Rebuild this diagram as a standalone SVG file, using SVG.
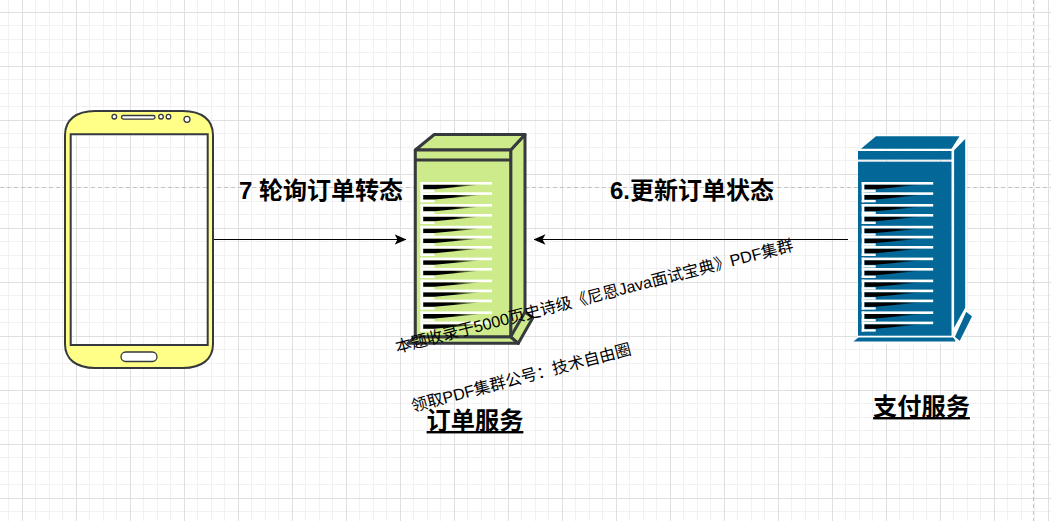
<svg xmlns="http://www.w3.org/2000/svg" xmlns:xlink="http://www.w3.org/1999/xlink" width="1051" height="521" viewBox="0 0 1051 521">
<style>
text{font-family:"Liberation Sans","Noto Sans CJK SC",sans-serif;fill:#000}
.lbl{font-size:24px;font-weight:700}
.ttl{font-size:24.2px;font-weight:700;text-decoration:underline}
.wm{font-size:16.2px}
.conn{stroke:#000;stroke-width:1;fill:none}
.ph{stroke:#36393d;stroke-width:2;fill:#ffff88}
.phw{stroke:#36393d;stroke-width:1.3;fill:#fff}
.g{fill:#cdeb8b;stroke:#36393d;stroke-width:3;stroke-linejoin:round}
.b{fill:#036897;stroke:#fff;stroke-width:1.6}
.w{fill:#fff}
.dash{stroke:#c4c4c4;fill:none;stroke-dasharray:4 3}
</style>
<defs>
<pattern id="grid" patternUnits="userSpaceOnUse" x="22" y="12" width="54" height="54">
<rect x="13" width="1" height="54" fill="#f1f1f1"/><rect x="27" width="1" height="54" fill="#f1f1f1"/><rect x="40" width="1" height="54" fill="#f1f1f1"/>
<rect y="13" width="54" height="1" fill="#f1f1f1"/><rect y="27" width="54" height="1" fill="#f1f1f1"/><rect y="40" width="54" height="1" fill="#f1f1f1"/>
<rect width="1" height="54" fill="#dfdfdf"/><rect width="54" height="1" fill="#dfdfdf"/>
</pattern>
<linearGradient id="fade" gradientUnits="userSpaceOnUse" x1="14" y1="0" x2="62" y2="0"><stop offset="0" stop-color="#000"/><stop offset="0.4" stop-color="#000"/><stop offset="1" stop-color="#000" stop-opacity="0"/></linearGradient>
<g id="row">
<path d="M2.6 2.6H62L14 7.2H2.6Z" fill="url(#fade)"/>
<rect class="w" width="71.5" height="2.6"/>
<rect class="w" width="2.6" height="10"/>
<rect class="w" y="7.6" width="14" height="2.4"/>
</g>
<g id="rows">
<use xlink:href="#row" y="0"/><use xlink:href="#row" y="10.3"/><use xlink:href="#row" y="22"/><use xlink:href="#row" y="32"/><use xlink:href="#row" y="43.8"/><use xlink:href="#row" y="53.8"/><use xlink:href="#row" y="64"/><use xlink:href="#row" y="75.6"/><use xlink:href="#row" y="86"/><use xlink:href="#row" y="97.6"/><use xlink:href="#row" y="107.6"/><use xlink:href="#row" y="117.6"/><use xlink:href="#row" y="129.4"/><use xlink:href="#row" y="139.6"/>
</g>
<marker id="arr" viewBox="0 0 12 11" refX="11.5" refY="5.5" markerWidth="12" markerHeight="11" markerUnits="userSpaceOnUse" orient="auto"><path d="M0 .2L12 5.5L0 10.8L3 5.5Z" fill="#000"/></marker>
</defs>
<rect width="1051" height="521" fill="#fff"/>
<rect width="1051" height="521" fill="url(#grid)"/>
<path class="dash" d="M0 187.5H1051M1033.5 0V521"/>
<g id="phone">
<path class="ph" fill-rule="evenodd" d="M95 111H183C202 111 213 120 213 135V344C213 359 202 368 183 368H95C76 368 65 359 65 344V135C65 120 76 111 95 111ZM70.7 134.3V345H207.7V134.3Z"/>
<rect class="phw" x="121.5" y="115.5" width="33.5" height="3.6" rx="1.8"/>
<circle class="phw" cx="114.3" cy="116.7" r="2.3"/><circle class="phw" cx="161" cy="116.7" r="2.3"/><circle class="phw" cx="168.5" cy="116.7" r="2.3"/><circle class="phw" cx="187" cy="119.3" r="3"/>
<rect class="phw" x="121" y="352" width="36" height="9.5" rx="4.7"/>
</g>
<g id="order-service">
<path class="g" d="M408 343.3L415.3 336.7H510.7L518.3 343.3Z"/>
<path class="g" d="M510.7 336.7V150L525 134.5V312L518.3 343.3Z"/>
<path class="g" d="M510.7 336.7L525 312L533 317.5L518.3 343.3Z"/>
<path class="g" d="M415.3 150L434.3 134.5H525L510.7 150Z"/>
<rect class="g" x="415.3" y="150" width="95.4" height="186.7"/>
<path d="M415.3 160H510.7" stroke="#36393d" stroke-width="3"/>
<use xlink:href="#rows" x="420.5" y="182"/>
<text class="ttl" x="475" y="429" text-anchor="middle">订单服务</text>
</g>
<g id="pay-service">
<path class="b" d="M851 342.4L858.3 336.6H954L957 342.4Z"/>
<path class="b" d="M953.3 150L966 137V308L953.3 331Z"/>
<path class="b" d="M966 310.5L973 316L960 342L954 337Z"/>
<path class="b" d="M859 149.5L875.7 135.5H961L952 149.5Z"/>
<rect x="858" y="151" width="93.5" height="8.6" fill="#036897"/>
<rect x="858" y="161.7" width="93.5" height="174" fill="#036897"/>
<use xlink:href="#rows" x="861.7" y="182"/>
<text class="ttl" x="921.5" y="415" text-anchor="middle">支付服务</text>
</g>
<g id="connectors">
<path class="conn" d="M214 239.5H406" marker-end="url(#arr)"/>
<path class="conn" d="M848 239.5H534" marker-end="url(#arr)"/>
</g>
<text class="lbl" x="239" y="199">7 轮询订单转态</text>
<text class="lbl" x="610" y="199">6.更新订单状态</text>
<text class="wm" transform="translate(397 353) rotate(-14.5)">本题收录于5000页史诗级《尼恩Java面试宝典》PDF集群</text>
<text class="wm" transform="translate(413 412) rotate(-14.8)">领取PDF集群公号：技术自由圈</text>
</svg>
